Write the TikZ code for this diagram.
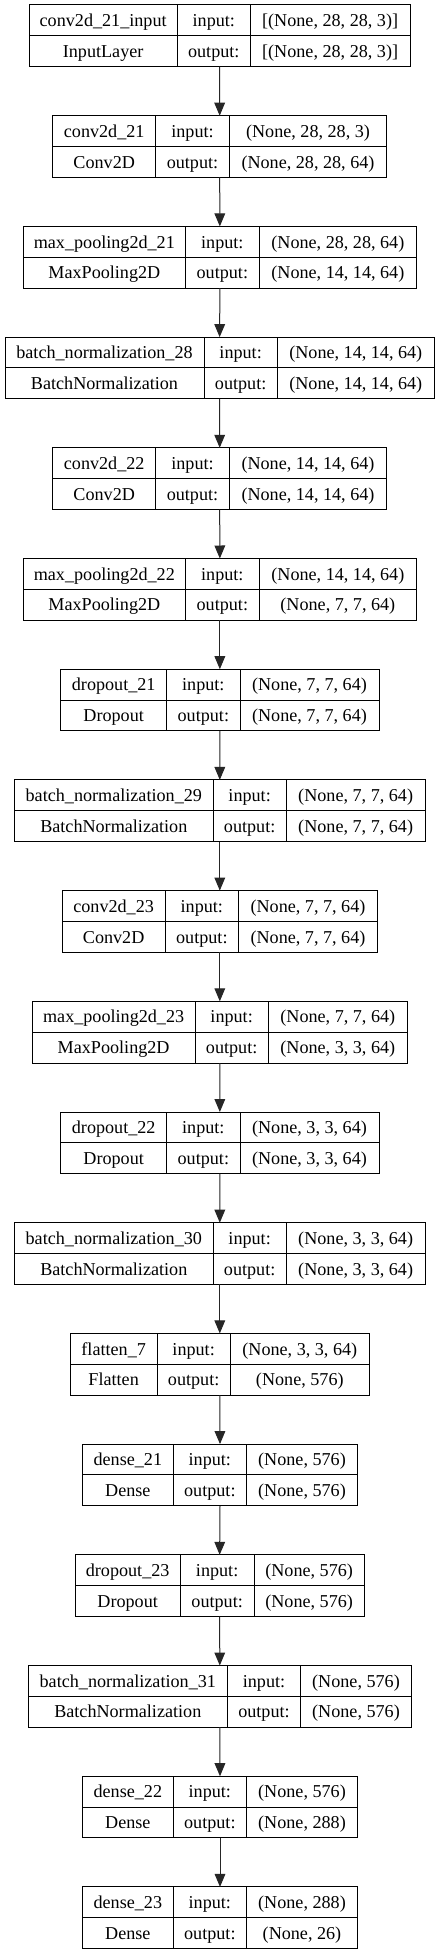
\documentclass[tikz,border=0pt]{standalone}
\usepackage{fontspec}
\setmainfont{Liberation Serif}
\newfontfamily\kerasfont{Liberation Serif}
\usetikzlibrary{arrows.meta}
\tikzset{
  box/.style={draw=black, line width=0.75pt, inner sep=0pt, outer sep=0pt},
  sep/.style={draw=black, line width=0.75pt},
  txt/.style={anchor=base, inner sep=0pt, font=\kerasfont\fontsize{13.6}{16}\selectfont},
  arr/.style={draw=black!85, line width=0.75pt, -{Triangle[length=9.75pt, width=8pt]}}
}
% #1 index, #2 x1, #3 d1, #4 d2, #5 x2, #6 name, #7 class, #8 in, #9 out
\newcommand\layerbox[9]{%
  \pgfmathsetmacro\lyT{5+110.7*(#1-1)}%
  \pgfmathsetmacro\lyB{\lyT+61.7}%
  \pgfmathsetmacro\lyM{\lyT+30.85}%
  \pgfmathsetmacro\lyA{\lyT+15.42+6.2}%
  \pgfmathsetmacro\lyC{\lyM+15.42+6.2}%
  \pgfmathsetmacro\lyX{(#2+#5)/2}%
  \pgfmathsetmacro\lyW{(#5-#2)*0.75}%
  \pgfmathsetmacro\lcA{(#2+#3)/2}%
  \pgfmathsetmacro\lcB{(#3+#4)/2}%
  \pgfmathsetmacro\lcC{(#4+#5)/2}%
  \node[box, minimum width=\lyW pt, minimum height=46.275pt] (L#1) at (\lyX,\lyM) {};
  \draw[sep] (L#1.west) -- (L#1.east);
  \draw[sep] (#3,\lyT) -- (#3,\lyB);
  \draw[sep] (#4,\lyT) -- (#4,\lyB);
  \node[txt] (L#1n) at (\lcA,\lyA) {#6};
  \node[txt] (L#1c) at (\lcA,\lyC) {#7};
  \node[txt] (L#1i) at (\lcB,\lyA) {input:};
  \node[txt] (L#1o) at (\lcB,\lyC) {output:};
  \node[txt] (L#1x) at (\lcC,\lyA) {#8};
  \node[txt] (L#1y) at (\lcC,\lyC) {#9};
}
\begin{document}
\begin{tikzpicture}[x=0.75pt, y=-0.75pt]
\useasboundingbox[fill=white] (0,0) rectangle (440,1955);
\layerbox{1}{29}{177.3}{250.3}{410}{conv2d\_21\_input}{InputLayer}{[(None, 28, 28, 3)]}{[(None, 28, 28, 3)]}
\layerbox{2}{52.7}{155.7}{229.3}{386.7}{conv2d\_21}{Conv2D}{(None, 28, 28, 3)}{(None, 28, 28, 64)}
\layerbox{3}{23}{185.7}{259}{416.7}{max\_pooling2d\_21}{MaxPooling2D}{(None, 28, 28, 64)}{(None, 14, 14, 64)}
\layerbox{4}{5}{204}{277.3}{434.3}{batch\_normalization\_28}{BatchNormalization}{(None, 14, 14, 64)}{(None, 14, 14, 64)}
\layerbox{5}{52.7}{155.7}{229.3}{386.7}{conv2d\_22}{Conv2D}{(None, 14, 14, 64)}{(None, 14, 14, 64)}
\layerbox{6}{23}{185.7}{259}{416.7}{max\_pooling2d\_22}{MaxPooling2D}{(None, 14, 14, 64)}{(None, 7, 7, 64)}
\layerbox{7}{60.7}{166.7}{240}{379}{dropout\_21}{Dropout}{(None, 7, 7, 64)}{(None, 7, 7, 64)}
\layerbox{8}{14.3}{213.3}{286}{425.3}{batch\_normalization\_29}{BatchNormalization}{(None, 7, 7, 64)}{(None, 7, 7, 64)}
\layerbox{9}{62.3}{165}{238.7}{377.3}{conv2d\_23}{Conv2D}{(None, 7, 7, 64)}{(None, 7, 7, 64)}
\layerbox{10}{32.3}{195}{268.3}{407.3}{max\_pooling2d\_23}{MaxPooling2D}{(None, 7, 7, 64)}{(None, 3, 3, 64)}
\layerbox{11}{60.7}{166.7}{240}{379}{dropout\_22}{Dropout}{(None, 3, 3, 64)}{(None, 3, 3, 64)}
\layerbox{12}{14.3}{213.3}{286}{425.3}{batch\_normalization\_30}{BatchNormalization}{(None, 3, 3, 64)}{(None, 3, 3, 64)}
\layerbox{13}{70.3}{157}{230.3}{369.3}{flatten\_7}{Flatten}{(None, 3, 3, 64)}{(None, 576)}
\layerbox{14}{82.7}{173}{246.7}{357.3}{dense\_21}{Dense}{(None, 576)}{(None, 576)}
\layerbox{15}{75}{180.3}{254}{364.3}{dropout\_23}{Dropout}{(None, 576)}{(None, 576)}
\layerbox{16}{28.3}{227.3}{300.7}{411.3}{batch\_normalization\_31}{BatchNormalization}{(None, 576)}{(None, 576)}
\layerbox{17}{82.7}{173}{246.7}{357.3}{dense\_22}{Dense}{(None, 576)}{(None, 288)}
\layerbox{18}{82.7}{173}{246.7}{357.3}{dense\_23}{Dense}{(None, 288)}{(None, 26)}
\foreach \i [evaluate=\i as \j using int(\i+1)] in {1,...,17}
  \draw[arr] (L\i.south) -- (L\j.north);
\end{tikzpicture}
\end{document}
